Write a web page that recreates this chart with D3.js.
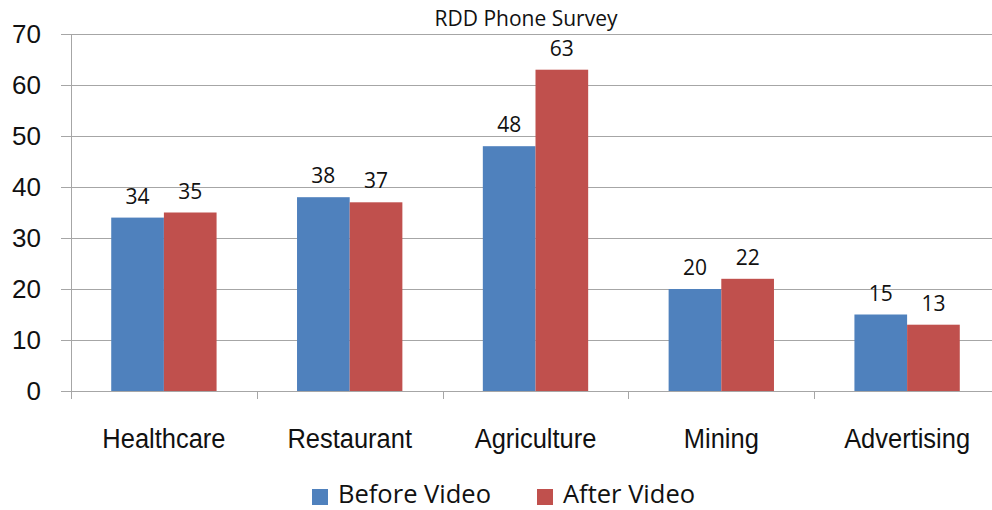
<!DOCTYPE html>
<html>
<head>
<meta charset="utf-8">
<script src="https://cdn.jsdelivr.net/npm/d3@7"></script>
<style>
  html, body { margin: 0; padding: 0; background: #fff; }
  svg { display: block; }
</style>
</head>
<body>
<svg id="chart" width="992" height="510"></svg>
<script>
// Survey results by industry, before and after the video
const categories = ["Healthcare", "Restaurant", "Agriculture", "Mining", "Advertising"];
const seriesNames = ["Before Video", "After Video"];
const beforeVideo = [34, 38, 48, 20, 15];
const afterVideo = [35, 37, 63, 22, 13];
const yTicks = [0, 10, 20, 30, 40, 50, 60, 70];
const titleText = "RDD Phone Survey";

const colors = ["#4F81BD", "#C0504D"];
const series = [beforeVideo, afterVideo];

const svg = d3.select("#chart");
const plot = { left: 71, right: 1000, top: 34, bottom: 391 };

const x = d3.scaleBand()
  .domain(categories)
  .range([plot.left, plot.right])
  .paddingInner(0.433)
  .paddingOuter(0.2165);

const xInner = d3.scaleBand()
  .domain(seriesNames)
  .range([0, x.bandwidth()]);

const y = d3.scaleLinear()
  .domain([0, 70])
  .range([plot.bottom, plot.top]);

// Tick marks and labels on the value axis
const yAxis = svg.append("g")
  .attr("transform", `translate(${plot.left},0)`)
  .call(d3.axisLeft(y).tickValues(yTicks).tickSize(10).tickSizeOuter(0).tickPadding(20));
yAxis.select(".domain").remove();
yAxis.selectAll(".tick line").attr("stroke", "#a6a6a6");
yAxis.selectAll(".tick text")
  .attr("font-family", "'Liberation Sans', Arial, sans-serif")
  .attr("font-size", 26)
  .attr("fill", "#111");

// Horizontal gridlines
svg.append("g")
  .selectAll("line")
  .data(yTicks)
  .join("line")
  .attr("x1", plot.left)
  .attr("x2", 992)
  .attr("y1", d => Math.round(y(d)) + 0.5)
  .attr("y2", d => Math.round(y(d)) + 0.5)
  .attr("stroke", "#a6a6a6")
  .attr("stroke-width", 1);

// Vertical axis line
svg.append("line")
  .attr("x1", plot.left + 0.5).attr("x2", plot.left + 0.5)
  .attr("y1", plot.top).attr("y2", plot.bottom + 8)
  .attr("stroke", "#a6a6a6");

// Category separator ticks below the baseline
const step = x.step();
svg.append("g")
  .selectAll("line")
  .data(d3.range(categories.length + 1))
  .join("line")
  .attr("x1", i => Math.round(plot.left + i * step) + 0.5)
  .attr("x2", i => Math.round(plot.left + i * step) + 0.5)
  .attr("y1", plot.bottom)
  .attr("y2", plot.bottom + 8)
  .attr("stroke", "#a6a6a6");

// Bars
const groups = svg.append("g")
  .selectAll("g")
  .data(categories)
  .join("g")
  .attr("transform", d => `translate(${x(d)},0)`);

groups.selectAll("rect")
  .data((d, i) => seriesNames.map((s, k) => ({ s, k, v: series[k][i] })))
  .join("rect")
  .attr("x", d => xInner(d.s))
  .attr("y", d => y(d.v))
  .attr("width", xInner.bandwidth())
  .attr("height", d => y(0) - y(d.v))
  .attr("fill", d => colors[d.k]);

// Value labels
groups.selectAll("text")
  .data((d, i) => seriesNames.map((s, k) => ({ s, k, v: series[k][i] })))
  .join("text")
  .attr("x", d => xInner(d.s) + xInner.bandwidth() / 2)
  .attr("y", d => y(d.v) - 14)
  .attr("text-anchor", "middle")
  .attr("font-family", "'Open Sans', sans-serif")
  .attr("font-size", 21)
  .attr("fill", "#111")
  .text(d => d.v);

// Category labels, horizontally condensed
svg.append("g")
  .selectAll("text")
  .data(categories)
  .join("text")
  .attr("transform", d => `translate(${x(d) + x.bandwidth() / 2},448) scale(0.91,1)`)
  .attr("text-anchor", "middle")
  .attr("font-family", "'Liberation Sans', Arial, sans-serif")
  .attr("font-size", 28)
  .attr("fill", "#111")
  .text(d => d);

// Title
svg.append("text")
  .attr("x", 526)
  .attr("y", 26)
  .attr("text-anchor", "middle")
  .attr("font-family", "'Open Sans', sans-serif")
  .attr("font-size", 21)
  .attr("fill", "#111")
  .text(titleText);

// Legend
const legendItems = [
  { name: seriesNames[0], color: colors[0], x: 312 },
  { name: seriesNames[1], color: colors[1], x: 537 }
];
const legend = svg.append("g");
legend.selectAll("rect")
  .data(legendItems)
  .join("rect")
  .attr("x", d => d.x)
  .attr("y", 489)
  .attr("width", 16)
  .attr("height", 16)
  .attr("fill", d => d.color);
legend.selectAll("text")
  .data(legendItems)
  .join("text")
  .attr("x", d => d.x + 26)
  .attr("y", 503)
  .attr("font-family", "'Open Sans', sans-serif")
  .attr("font-size", 25.5)
  .attr("fill", "#111")
  .text(d => d.name);
</script>
</body>
</html>
